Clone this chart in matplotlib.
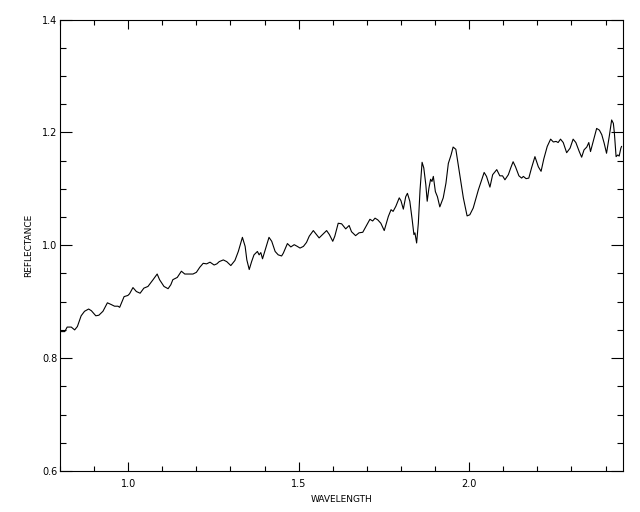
import matplotlib
matplotlib.use("Agg")
import matplotlib.pyplot as plt
from matplotlib.ticker import MultipleLocator

# spectrum
wavelength = [
    0.802, 0.814, 0.821, 0.833, 0.843, 0.851, 0.862, 0.872, 0.884, 0.892,
    0.905, 0.914, 0.926, 0.939, 0.950, 0.960, 0.970, 0.975, 0.988, 0.999,
    1.004, 1.014, 1.024, 1.035, 1.046, 1.058, 1.073, 1.085, 1.092, 1.105,
    1.117, 1.125, 1.131, 1.144, 1.156, 1.166, 1.177, 1.190, 1.200, 1.210,
    1.220, 1.230, 1.240, 1.252, 1.260, 1.267, 1.279, 1.289, 1.301, 1.313,
    1.323, 1.335, 1.343, 1.348, 1.355, 1.362, 1.369, 1.379, 1.384, 1.389,
    1.394, 1.402, 1.413, 1.421, 1.431, 1.440, 1.450, 1.455, 1.467, 1.477,
    1.487, 1.496, 1.504, 1.514, 1.523, 1.531, 1.543, 1.551, 1.560, 1.570,
    1.582, 1.590, 1.600, 1.606, 1.616, 1.626, 1.638, 1.648, 1.655, 1.667,
    1.677, 1.688, 1.697, 1.709, 1.717, 1.724, 1.732, 1.741, 1.751, 1.763,
    1.771, 1.777, 1.785, 1.795, 1.800, 1.807, 1.814, 1.819, 1.826, 1.833,
    1.838, 1.841, 1.846, 1.851, 1.856, 1.862, 1.867, 1.873, 1.877, 1.882,
    1.887, 1.891, 1.895, 1.901, 1.907, 1.914, 1.924, 1.932, 1.939, 1.947,
    1.953, 1.961, 1.971, 1.983, 1.994, 2.002, 2.012, 2.027, 2.044, 2.051,
    2.061, 2.069, 2.081, 2.090, 2.098, 2.105, 2.115, 2.122, 2.129, 2.136,
    2.146, 2.154, 2.159, 2.167, 2.175, 2.183, 2.193, 2.203, 2.211, 2.219,
    2.229, 2.239, 2.247, 2.255, 2.261, 2.268, 2.276, 2.286, 2.296, 2.305,
    2.313, 2.323, 2.330, 2.337, 2.345, 2.351, 2.356, 2.364, 2.374, 2.382,
    2.389, 2.396, 2.403, 2.411, 2.418, 2.423, 2.426, 2.431, 2.436, 2.440,
    2.445, 2.447,
]
reflectance = [
    0.847, 0.847, 0.855, 0.855, 0.850, 0.856, 0.875, 0.883, 0.887, 0.884,
    0.875, 0.876, 0.883, 0.898, 0.895, 0.892, 0.892, 0.890, 0.909, 0.911,
    0.914, 0.925, 0.918, 0.915, 0.924, 0.927, 0.939, 0.949, 0.939, 0.927,
    0.923, 0.930, 0.939, 0.943, 0.954, 0.949, 0.949, 0.949, 0.952, 0.961,
    0.968, 0.967, 0.970, 0.965, 0.967, 0.971, 0.974, 0.971, 0.964, 0.973,
    0.989, 1.014, 0.998, 0.974, 0.957, 0.971, 0.983, 0.989, 0.983, 0.987,
    0.976, 0.992, 1.014, 1.007, 0.989, 0.983, 0.981, 0.986, 1.003, 0.997,
    1.001, 0.998, 0.995, 0.998, 1.005, 1.016, 1.026, 1.020, 1.013, 1.019,
    1.026, 1.019, 1.007, 1.016, 1.039, 1.038, 1.029, 1.035, 1.024, 1.017,
    1.022, 1.023, 1.033, 1.046, 1.043, 1.048, 1.045, 1.039, 1.026, 1.051,
    1.063, 1.060, 1.069, 1.084, 1.079, 1.064, 1.086, 1.092, 1.078, 1.045,
    1.019, 1.022, 1.004, 1.039, 1.098, 1.147, 1.137, 1.107, 1.078, 1.101,
    1.117, 1.113, 1.122, 1.095, 1.086, 1.068, 1.084, 1.110, 1.145, 1.160,
    1.174, 1.170, 1.131, 1.084, 1.052, 1.054, 1.066, 1.098, 1.129, 1.122,
    1.103, 1.125, 1.134, 1.123, 1.123, 1.116, 1.125, 1.137, 1.148, 1.139,
    1.123, 1.119, 1.122, 1.118, 1.119, 1.137, 1.157, 1.139, 1.131, 1.153,
    1.175, 1.188, 1.183, 1.184, 1.182, 1.188, 1.182, 1.164, 1.172, 1.188,
    1.182, 1.166, 1.156, 1.169, 1.174, 1.182, 1.166, 1.184, 1.207, 1.204,
    1.196, 1.181, 1.163, 1.193, 1.222, 1.216, 1.199, 1.157, 1.160, 1.158,
    1.172, 1.175,
]

x_range = (0.8, 2.45)
y_range = (0.6, 1.4)
x_ticks = [1.0, 1.5, 2.0]
y_ticks = [0.6, 0.8, 1.0, 1.2, 1.4]

fig = plt.figure(figsize=(6.4, 5.12), dpi=100)
ax = fig.add_axes([0.09375, 0.0801, 0.8790, 0.8818])

ax.plot(wavelength, reflectance, color="black", linewidth=0.8)

ax.set_xlim(*x_range)
ax.set_ylim(*y_range)
ax.set_xticks(x_ticks)
ax.set_xticklabels(["%.1f" % v for v in x_ticks])
ax.set_yticks(y_ticks)
ax.set_yticklabels(["%.1f" % v for v in y_ticks])
ax.xaxis.set_minor_locator(MultipleLocator(0.1))
ax.yaxis.set_minor_locator(MultipleLocator(0.05))

ax.tick_params(axis="both", which="both", direction="in", top=True, right=True,
               width=0.8, labelsize=7, colors="black")
ax.tick_params(axis="x", which="major", length=6.5, pad=6)
ax.tick_params(axis="x", which="minor", length=3.3)
ax.tick_params(axis="y", which="major", length=8.3, pad=2)
ax.tick_params(axis="y", which="minor", length=4.3)
for s in ax.spines.values():
    s.set_linewidth(0.8)

ax.set_xlabel("WAVELENGTH", fontsize=6.5, labelpad=4)
ax.set_ylabel("REFLECTANCE", fontsize=6.5, labelpad=6)

fig.savefig("out.png", dpi=100)
